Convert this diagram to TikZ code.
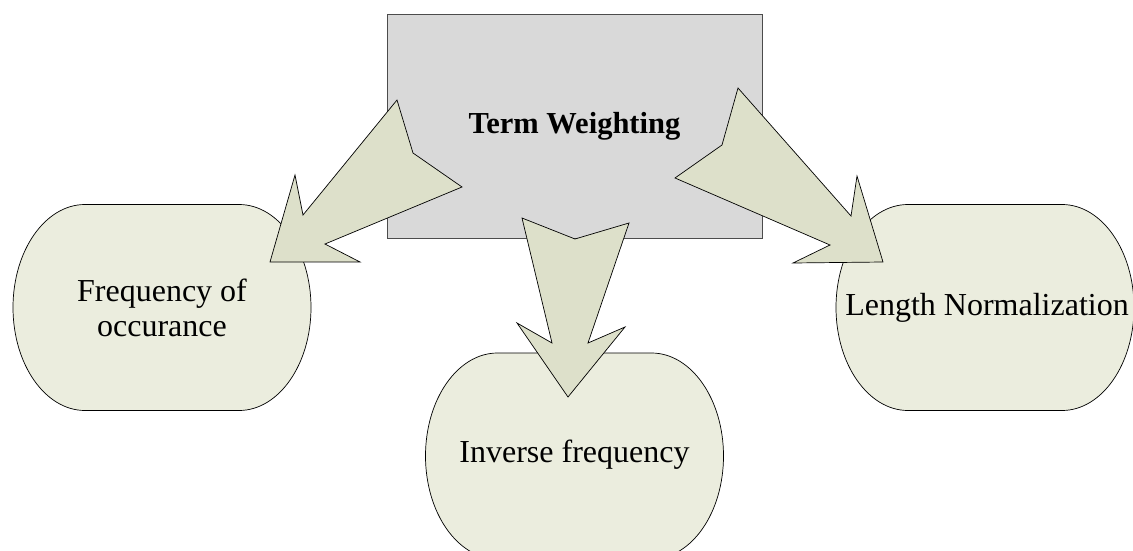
\documentclass[tikz,border=0pt]{standalone}
\usepackage{fontspec}
\setmainfont{Liberation Serif}
\definecolor{leafgreen}{HTML}{EBEDDE}
\definecolor{arrowgreen}{HTML}{DDE0CA}
\definecolor{boxgray}{HTML}{D9D9D9}
\begin{document}
\begin{tikzpicture}[x=1pt, y=-1pt,
        leaf/.style={draw=black, fill=leafgreen, line width=0.7pt},
        blockarrow/.style={draw=black, fill=arrowgreen, line width=0.7pt, line join=miter},
        label/.style={align=center, font=\fontsize{32}{35}\selectfont}]
        \useasboundingbox (0, 0) rectangle (1133, 551);
        \foreach \cx/\cy in {162/307.5, 574.5/456, 985/307.5}
            \draw[leaf, shift={(\cx, \cy)}] (-77, -103) -- (77, -103) arc[start angle=-90, end angle=90, x radius=72, y radius=103] -- (-77, 103) arc[start angle=90, end angle=270, x radius=72, y radius=103] -- cycle;
        \node[draw=black!70, fill=boxgray, line width=0.9pt, minimum width=375pt, minimum height=224pt, align=center, font=\fontsize{30.5}{35}\selectfont\bfseries] (term) at (574.5, 126.5) {Term Weighting};
        \draw[blockarrow] (397, 100) -- (413, 153) -- (462, 187) -- (325, 244) -- (360, 262) -- (270, 262) -- (295, 175) -- (303, 215) -- cycle;
        \draw[blockarrow] (522, 218) -- (575, 239) -- (629, 223) -- (588, 343) -- (625, 327) -- (568, 397) -- (517, 323) -- (552, 343) -- cycle;
        \draw[blockarrow] (738, 88) -- (722, 145) -- (675, 178) -- (830, 245) -- (793, 263) -- (883, 262) -- (857, 176) -- (851, 216) -- cycle;
        \node[label] (freq) at (162, 307.5) {Frequency of\\occurance};
        \node[label] (inv) at (574.5, 455) {Inverse frequency};
        \node[label] (len) at (987, 307.5) {Length Normalization};
    \end{tikzpicture}
\end{document}
